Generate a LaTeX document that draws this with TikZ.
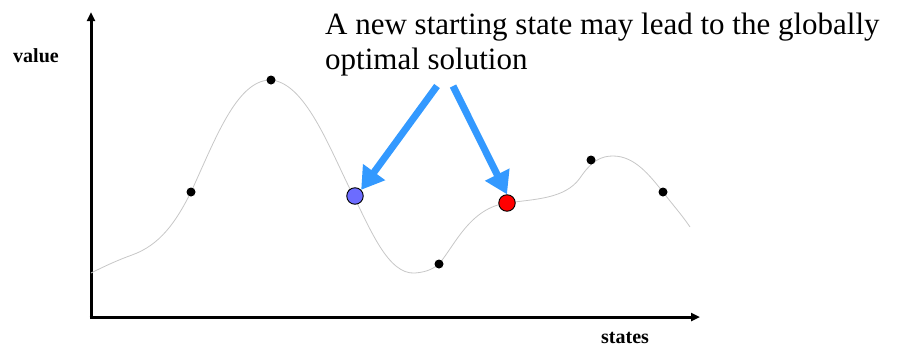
\documentclass[tikz,border=0pt]{standalone}
\usepackage{fontspec}
\setmainfont{Liberation Serif}
\usetikzlibrary{arrows.meta}
\definecolor{arrowblue}{RGB}{51,153,255}
\definecolor{startblue}{RGB}{108,108,255}
\tikzset{
  axis/.style={line width=3pt,-{Triangle[length=9pt,width=8pt]}},
  curve/.style={draw=black!22,line width=0.8pt},
  dot/.style={circle,fill=black,inner sep=0pt,minimum size=9pt},
  state/.style={circle,draw=black,line width=0.9pt,inner sep=0pt,minimum size=16.5pt},
  pointer/.style={draw=arrowblue,line width=7pt,-{Triangle[length=22pt,width=26pt]}},
  axlabel/.style={font=\rmfamily\bfseries\fontsize{20}{24}\selectfont,inner sep=0pt,anchor=base west}
}
\begin{document}
\begin{tikzpicture}[x=1pt,y=-1pt]
\useasboundingbox (0,0) rectangle (900,351);
% axes
\coordinate (origin) at (91,317);
\coordinate (ytop) at (91,12);
\coordinate (xend) at (700,317);
\draw[axis] (origin) -- (ytop);
\draw[axis] ([xshift=-1.5pt]origin) -- (xend);
\node[axlabel] (value) at (13,62) {value};
\node[axlabel] (states) at (601,343) {states};
% landscape curve
\draw[curve] (91,273) .. controls (105,266) and (118,260) .. (132,255)
  .. controls (160,245) and (176,222) .. (191,192)
  .. controls (215,140) and (236,82) .. (269,80)
  .. controls (305,80) and (330,150) .. (353,195)
  .. controls (370,228) and (388,275) .. (415,273)
  .. controls (428,272) and (434,268) .. (439,264)
  .. controls (455,245) and (470,208) .. (507,203)
  .. controls (535,199) and (565,199) .. (580,178)
  .. controls (592,160) and (602,156) .. (613,156)
  .. controls (635,156) and (650,176) .. (663,192)
  .. controls (672,204) and (682,215) .. (690,227);
% black states
\node[dot] (d1) at (191,192) {};
\node[dot] (d2) at (271,80) {};
\node[dot] (d3) at (352,193) {};
\node[dot] (d4) at (439,264) {};
\node[dot] (d5) at (591,160) {};
\node[dot] (d6) at (663,192) {};
% new starting states
\node[state,fill=startblue] (blue) at (355,196) {};
\node[state,fill=red] (red) at (507,203) {};
% caption
\node[inner sep=0pt,anchor=north west,align=left,font=\rmfamily\fontsize{31}{35}\selectfont] (caption) at (325,13)
  {A new starting state may lead to the globally\\optimal solution};
\coordinate (a1) at (437,86);
\coordinate (a2) at (453,86);
\draw[pointer] (a1) -- (blue.north east);
\draw[pointer] (a2) -- (red.north);
\end{tikzpicture}
\end{document}
